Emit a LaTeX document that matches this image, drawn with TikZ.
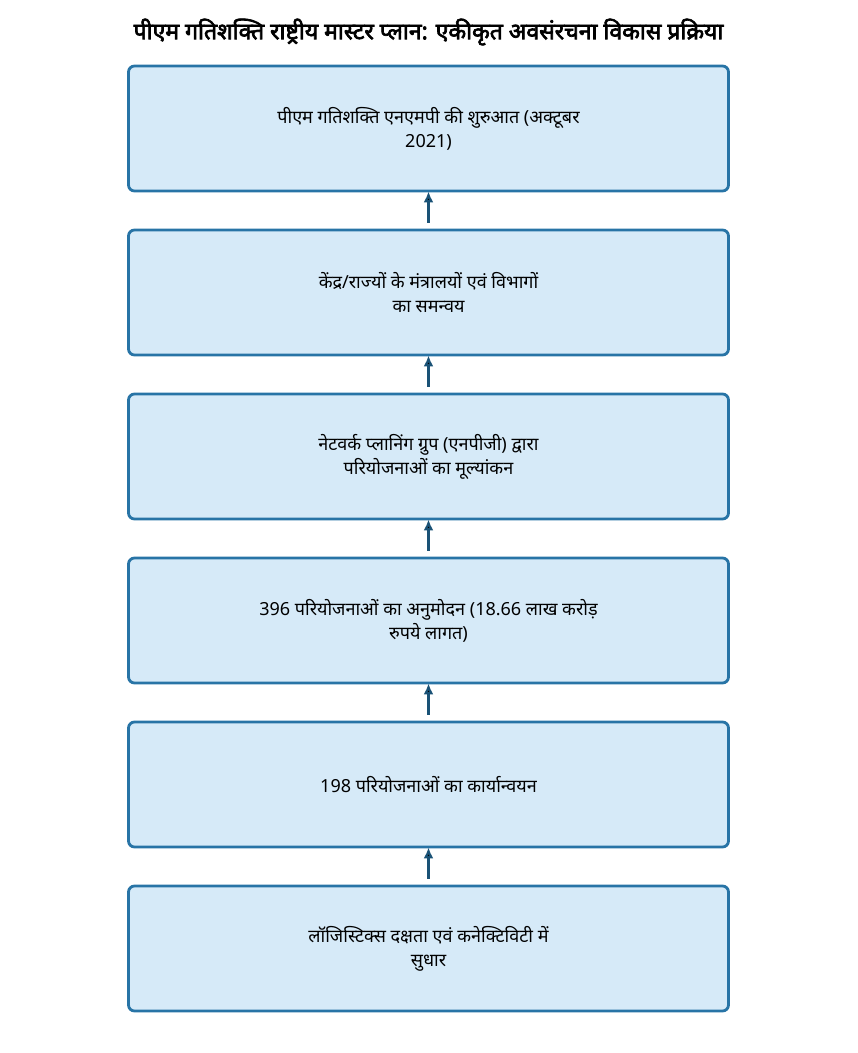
\documentclass[tikz,border=0pt]{standalone}
\usepackage{fontspec}
\setmainfont{Noto Sans}[Script=Devanagari,AutoFakeBold=3]
\usepackage{tikz}
\usetikzlibrary{positioning,arrows.meta}

\definecolor{stagefill}{HTML}{D6EAF8}
\definecolor{stageline}{HTML}{2874A6}
\definecolor{flowline}{HTML}{1A5276}

\begin{document}
\begin{tikzpicture}[x=1pt,y=1pt,node distance=164pt,on grid,
   stage/.style={rectangle, rounded corners=6pt, draw=stageline, fill=stagefill,
      line width=2.8pt, minimum width=600pt, minimum height=125pt,
      inner sep=0pt, align=center, font=\fontsize{18}{24}\selectfont},
   flow/.style={-{Latex[length=11pt,width=10pt]}, line width=3pt, draw=flowline,
      shorten <=6pt, shorten >=-1pt}]
   \useasboundingbox (0,0) rectangle (858,-1053);
   \node (title) at (428.5,-32) {\fontsize{23}{26}\selectfont\bfseries पीएम गतिशक्ति राष्ट्रीय मास्टर प्लान: एकीकृत अवसंरचना विकास प्रक्रिया};
   \node[stage] (s1) at (428.5,-128.5) {पीएम गतिशक्ति एनएमपी की शुरुआत (अक्टूबर\\2021)};
   \node[stage] (s2) [below=of s1] {केंद्र/राज्यों के मंत्रालयों एवं विभागों\\का समन्वय};
   \node[stage] (s3) [below=of s2] {नेटवर्क प्लानिंग ग्रुप (एनपीजी) द्वारा\\परियोजनाओं का मूल्यांकन};
   \node[stage] (s4) [below=of s3] {396 परियोजनाओं का अनुमोदन (18.66 लाख करोड़\\रुपये लागत)};
   \node[stage] (s5) [below=of s4] {198 परियोजनाओं का कार्यान्वयन};
   \node[stage] (s6) [below=of s5] {लॉजिस्टिक्स दक्षता एवं कनेक्टिविटी में\\सुधार};

   \path[flow]
    (s2) edge (s1)
    (s3) edge (s2)
    (s4) edge (s3)
    (s5) edge (s4)
    (s6) edge (s5);
\end{tikzpicture}
\end{document}
